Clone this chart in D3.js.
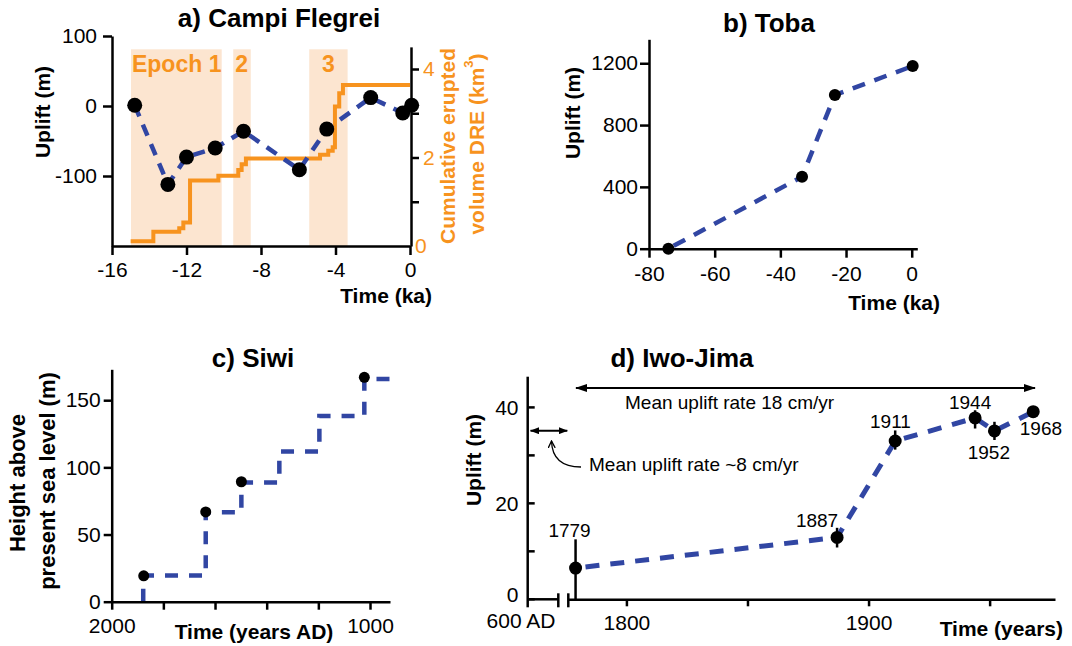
<!DOCTYPE html>
<html><head><meta charset="utf-8">
<script src="https://cdn.jsdelivr.net/npm/d3@7"></script>
<style>
body{margin:0;background:#fff;}
svg{display:block;}
</style></head><body>
<svg id="chart" width="1072" height="646"></svg>
<script>
// ================= DATA =================
// a) Campi Flegrei
const cfTime   = [-14.78, -13.0, -12.0, -10.46, -8.94, -5.94, -4.47, -2.11, -0.39, 0.09];
const cfUplift = [1, -112, -73, -60, -36, -91, -33, 12, -10, 1];
const cfVolTime = [-15, -13.78, -12.39, -12.17, -11.81, -10.29, -9.22, -9.04, -8.81, -4.83, -4.39, -4.15, -4.03, -3.8, -3.6, 0];
const cfVolume  = [0.11, 0.32, 0.40, 0.53, 1.48, 1.59, 1.72, 1.85, 1.98, 2.06, 2.15, 2.23, 3.15, 3.45, 3.64, 3.64];
const epochStart = [-14.98, -9.49, -5.41];
const epochEnd   = [-10.11, -8.55, -3.35];
const epochLabels = ["Epoch 1", "2", "3"];
const cfXTicks = [-16, -12, -8, -4, 0];
const cfYTicks = [100, 0, -100];
const cfVolTicks = [0, 1, 2, 3, 4];
const cfVolLabelTicks = [0, 2, 4];

// b) Toba
const tobaTime   = [-74.1, -33.4, -23.4, 0.3];
const tobaUplift = [0, 466, 995, 1182];
const tobaXTicks = [-80, -60, -40, -20, 0];
const tobaYTicks = [0, 400, 800, 1200];

// c) Siwi
const siwiStepYear   = [1878, 1878, 1636, 1498, 1351, 1196, 1022, 910];
const siwiStepHeight = [0, 19.5, 66.5, 88.7, 111.8, 138.2, 165.8, 165.8];
const siwiDotYear   = [1876, 1636, 1498, 1022];
const siwiDotHeight = [19.3, 66.8, 89.3, 167];
const siwiXTicks = [2000, 1800, 1600, 1400, 1200, 1000];
const siwiXLabels = [2000, 1000];
const siwiYTicks = [0, 50, 100, 150];

// d) Iwo-Jima
const iwoYear   = [1779, 1887, 1911, 1944, 1952, 1968];
const iwoUplift = [6.5, 12.9, 33.0, 37.8, 35.1, 39.1];
const iwoErrLo  = [0, 10.8, 31.2, 35.6, 33.2, 39.1];
const iwoErrHi  = [12.5, 14.9, 35.2, 39.4, 37.0, 39.1];
const iwoXTicks = [1800, 1850, 1900, 1950];
const iwoXLabels = [1800, 1900];
const iwoYTicks = [0, 10, 20, 30, 40];
const iwoYLabels = [0, 20, 40];

// ================= STYLE =================
const FONT = "'Liberation Sans', Arial, Helvetica, sans-serif";
const BLUE = "#3146a3", ORANGE = "#f7931e", SHADE = "#fce5d0";
const AXW = 2.5;

const svg = d3.select("#chart").attr("font-family", FONT);
svg.append("rect").attr("width", 1072).attr("height", 646).attr("fill", "#fff");

function txt(g, x, y, s, o = {}) {
  const t = g.append("text").attr("x", x).attr("y", y).text(s)
    .attr("font-size", o.size || 21).attr("font-weight", o.bold ? "bold" : "normal")
    .attr("fill", o.fill || "#000").attr("text-anchor", o.anchor || "start");
  if (o.rot) t.attr("transform", `rotate(${o.rot},${x},${y})`);
  if (o.central) t.attr("dominant-baseline", "central");
  return t;
}
function styleAxis(g, size, color) {
  g.attr("font-family", FONT).attr("font-size", size);
  g.select(".domain").attr("stroke", color || "#000").attr("stroke-width", AXW);
  g.selectAll(".tick line").attr("stroke", color || "#000").attr("stroke-width", AXW);
  g.selectAll(".tick text").attr("fill", color || "#000");
}
const fmt = d => String(d);

// ================= PANEL A =================
(function () {
  const g = svg.append("g");
  const x = d3.scaleLinear([-16, 0], [112, 410]);
  const yL = d3.scaleLinear([-200, 100], [246, 36]);
  const yR = d3.scaleLinear([0, 4.5], [246, 246 - 4.5 * 44.25]);

  // epoch shading
  g.selectAll("rect.ep").data(epochStart).join("rect")
    .attr("x", (d) => x(d)).attr("width", (d, i) => x(epochEnd[i]) - x(d))
    .attr("y", yL(81)).attr("height", yL(-200) - yL(81)).attr("fill", SHADE);
  const epX = [x(epochStart[0]) + 1, x(epochStart[1]) + 2, (x(epochStart[2]) + x(epochEnd[2])) / 2];
  epochLabels.forEach((s, i) => txt(g, epX[i], 72, s, { size: 23, bold: true, fill: ORANGE, anchor: i === 2 ? "middle" : "start" }));

  // cumulative volume step line
  const vol = cfVolTime.map((t, i) => [t, cfVolume[i]]);
  g.append("path").datum(vol)
    .attr("d", d3.line().x(d => x(d[0])).y(d => yR(d[1])).curve(d3.curveStepAfter))
    .attr("fill", "none").attr("stroke", ORANGE).attr("stroke-width", 4);

  // uplift
  const up = cfTime.map((t, i) => [t, cfUplift[i]]);
  g.append("path").datum(up)
    .attr("d", d3.line().x(d => x(d[0])).y(d => yL(d[1])))
    .attr("fill", "none").attr("stroke", BLUE).attr("stroke-width", 4.5).attr("stroke-dasharray", "12,9");
  g.selectAll("circle").data(up).join("circle")
    .attr("cx", d => x(d[0])).attr("cy", d => yL(d[1])).attr("r", 7.5).attr("fill", "#000");

  // axes
  const ax = g.append("g").attr("transform", "translate(0,246)")
    .call(d3.axisBottom(x).tickValues(cfXTicks).tickFormat(fmt).tickSize(9).tickSizeOuter(0).tickPadding(7));
  styleAxis(ax, 21);
  const ayl = g.append("g").attr("transform", "translate(112,0)")
    .call(d3.axisLeft(yL).tickValues(cfYTicks).tickFormat(fmt).tickSize(9).tickSizeOuter(0).tickPadding(6));
  styleAxis(ayl, 21);
  const ayr = g.append("g").attr("transform", "translate(411,0)")
    .call(d3.axisRight(yR).tickValues(cfVolTicks).tickFormat(d => cfVolLabelTicks.includes(d) ? fmt(d) : "")
      .tickSize(8).tickSizeOuter(0).tickPadding(4));
  styleAxis(ayr, 21, "#000");
  ayr.selectAll(".tick text").attr("fill", ORANGE);
  ayr.selectAll(".tick").filter(d => d === 0).select("line").remove();
  ayr.selectAll(".tick").filter(d => d === 0).select("text").attr("x", 4);

  txt(g, 279, 27, "a) Campi Flegrei", { size: 26, bold: true, anchor: "middle" });
  txt(g, 42, 112, "Uplift (m)", { bold: true, anchor: "middle", rot: -90, central: true });
  txt(g, 432, 303, "Time (ka)", { bold: true, anchor: "end" });
  txt(g, 447, 146, "Cumulative erupted", { bold: true, anchor: "middle", rot: -90, central: true, fill: ORANGE });
  const t2 = txt(g, 476, 144, "volume DRE (km", { bold: true, anchor: "middle", rot: -90, central: true, fill: ORANGE });
  t2.append("tspan").attr("font-size", 13).attr("dy", -8).text("3");
  t2.append("tspan").attr("dy", 8).text(")");
})();

// ================= PANEL B =================
(function () {
  const g = svg.append("g");
  const x = d3.scaleLinear([-80, 1.7], [649, 917.3]);
  const y = d3.scaleLinear([0, 1355], [248.7, 39.3]);
  const pts = tobaTime.map((t, i) => [t, tobaUplift[i]]);
  g.append("path").datum(pts)
    .attr("d", d3.line().x(d => x(d[0])).y(d => y(d[1])))
    .attr("fill", "none").attr("stroke", BLUE).attr("stroke-width", 4.5).attr("stroke-dasharray", "13,10")
    .attr("stroke-dashoffset", -6);
  g.selectAll("circle").data(pts).join("circle")
    .attr("cx", d => x(d[0])).attr("cy", d => y(d[1])).attr("r", 6).attr("fill", "#000");
  const ax = g.append("g").attr("transform", "translate(0,248.7)")
    .call(d3.axisBottom(x).tickValues(tobaXTicks).tickFormat(fmt).tickSize(9).tickSizeOuter(0).tickPadding(8));
  styleAxis(ax, 21);
  const ay = g.append("g").attr("transform", "translate(649,0)")
    .call(d3.axisLeft(y).tickValues(tobaYTicks).tickFormat(fmt).tickSize(9).tickSizeOuter(0).tickPadding(2));
  styleAxis(ay, 21);
  txt(g, 769, 32, "b) Toba", { size: 26, bold: true, anchor: "middle" });
  txt(g, 572, 113, "Uplift (m)", { bold: true, anchor: "middle", rot: -90, central: true });
  txt(g, 940, 310, "Time (ka)", { bold: true, anchor: "end" });
})();

// ================= PANEL C =================
(function () {
  const g = svg.append("g");
  const x = d3.scaleLinear([2000, 922.6], [111.7, 390]);
  const y = d3.scaleLinear([0, 173], [601.7, 369.3]);
  const step = siwiStepYear.map((t, i) => [t, siwiStepHeight[i]]);
  g.append("path").datum(step)
    .attr("d", d3.line().x(d => x(d[0])).y(d => y(d[1])).curve(d3.curveStepAfter))
    .attr("fill", "none").attr("stroke", BLUE).attr("stroke-width", 4.5).attr("stroke-dasharray", "13,11");
  const dots = siwiDotYear.map((t, i) => [t, siwiDotHeight[i]]);
  g.selectAll("circle").data(dots).join("circle")
    .attr("cx", d => x(d[0])).attr("cy", d => y(d[1])).attr("r", 5.5).attr("fill", "#000");
  const ax = g.append("g").attr("transform", "translate(0,601.7)")
    .call(d3.axisBottom(x).tickValues(siwiXTicks).tickFormat(d => siwiXLabels.includes(d) ? fmt(d) : "")
      .tickSize(8).tickSizeOuter(0).tickPadding(8));
  styleAxis(ax, 21);
  const ay = g.append("g").attr("transform", "translate(111.7,0)")
    .call(d3.axisLeft(y).tickValues(siwiYTicks).tickFormat(fmt).tickSize(8).tickSizeOuter(0).tickPadding(3));
  styleAxis(ay, 21);
  txt(g, 253, 367, "c) Siwi", { size: 26, bold: true, anchor: "middle" });
  txt(g, 17, 483, "Height above", { size: 22, bold: true, anchor: "middle", rot: -90, central: true });
  txt(g, 47, 481, "present sea level (m)", { size: 22, bold: true, anchor: "middle", rot: -90, central: true });
  txt(g, 254, 639, "Time (years AD)", { bold: true, anchor: "middle" });
})();

// ================= PANEL D =================
(function () {
  const g = svg.append("g");
  const x = d3.scaleLinear([1776, 1977], [568.3, 1055]);
  const y = d3.scaleLinear([0, 46.4], [599.3, 376.7]);
  const axX = 527.7, y0 = y(0);

  const defs = svg.append("defs");
  defs.append("marker").attr("id", "ahBig").attr("viewBox", "0 0 12 8").attr("refX", 11).attr("refY", 4)
    .attr("markerWidth", 12).attr("markerHeight", 8).attr("markerUnits", "userSpaceOnUse").attr("orient", "auto-start-reverse")
    .append("path").attr("d", "M0,0 L12,4 L0,8 Z").attr("fill", "#000");
  defs.append("marker").attr("id", "ahSmall").attr("viewBox", "0 0 9 7").attr("refX", 8.5).attr("refY", 3.5)
    .attr("markerWidth", 9).attr("markerHeight", 7).attr("markerUnits", "userSpaceOnUse").attr("orient", "auto-start-reverse")
    .append("path").attr("d", "M0,0 L9,3.5 L0,7 Z").attr("fill", "#000");
  defs.append("marker").attr("id", "ahOpen").attr("viewBox", "0 0 8 8").attr("refX", 7).attr("refY", 4)
    .attr("markerWidth", 8).attr("markerHeight", 8).attr("markerUnits", "userSpaceOnUse").attr("orient", "auto")
    .append("path").attr("d", "M0,0.5 L7,4 L0,7.5").attr("fill", "none").attr("stroke", "#000").attr("stroke-width", 1.3);

  // y axis (extends below x axis to make the 600 AD tick)
  g.append("line").attr("x1", axX).attr("x2", axX).attr("y1", 376.7).attr("y2", y0 + 8)
    .attr("stroke", "#000").attr("stroke-width", AXW);
  g.selectAll("line.yt").data(iwoYTicks).join("line")
    .attr("x1", axX).attr("x2", axX + 7).attr("y1", d => y(d)).attr("y2", d => y(d))
    .attr("stroke", "#000").attr("stroke-width", AXW);
  g.selectAll("text.yl").data(iwoYLabels).join("text")
    .attr("x", 518.5).attr("y", d => y(d) - (d === 0 ? 5 : 0)).attr("dy", "0.35em").attr("text-anchor", "end")
    .attr("font-size", 21).text(fmt);

  // broken x axis
  g.append("line").attr("x1", axX).attr("x2", 558.3).attr("y1", y0).attr("y2", y0).attr("stroke", "#000").attr("stroke-width", AXW);
  [558.3, 568.3].forEach(bx => g.append("line").attr("x1", bx).attr("x2", bx).attr("y1", y0 - 6).attr("y2", y0 + 8)
    .attr("stroke", "#000").attr("stroke-width", AXW));
  const ax = g.append("g").attr("transform", `translate(0,${y0})`)
    .call(d3.axisBottom(x).tickValues(iwoXTicks).tickFormat(d => iwoXLabels.includes(d) ? fmt(d) : "")
      .tickSize(7).tickSizeOuter(0).tickPadding(9));
  styleAxis(ax, 21);
  txt(g, 521, 628, "600 AD", { anchor: "middle" });

  // error bars, line, dots
  g.selectAll("line.err").data(iwoYear).join("line")
    .attr("x1", d => x(d)).attr("x2", d => x(d))
    .attr("y1", (d, i) => y(iwoErrLo[i])).attr("y2", (d, i) => y(iwoErrHi[i]))
    .attr("stroke", "#000").attr("stroke-width", 2.5);
  const pts = iwoYear.map((t, i) => [t, iwoUplift[i]]);
  g.append("path").datum(pts)
    .attr("d", d3.line().x(d => x(d[0])).y(d => y(d[1])))
    .attr("fill", "none").attr("stroke", BLUE).attr("stroke-width", 5).attr("stroke-dasharray", "14,11")
    .attr("stroke-dashoffset", -10);
  g.selectAll("circle").data(pts).join("circle")
    .attr("cx", d => x(d[0])).attr("cy", d => y(d[1])).attr("r", 6.5).attr("fill", "#000");

  // year labels
  const lblOff = [[-6, -31.6], [-20, -10.7], [-4.7, -13.4], [-5, -9.4], [-5.6, 27.6], [7.7, 23.3]];
  pts.forEach((p, i) => txt(g, x(p[0]) + lblOff[i][0], y(p[1]) + lblOff[i][1], String(p[0]), { size: 19, anchor: "middle" }));

  // arrows and annotations
  g.append("line").attr("x1", 576).attr("x2", 1035).attr("y1", 388).attr("y2", 388)
    .attr("stroke", "#000").attr("stroke-width", 2)
    .attr("marker-start", "url(#ahBig)").attr("marker-end", "url(#ahBig)");
  txt(g, 625, 409, "Mean uplift rate 18 cm/yr", { size: 19 });
  g.append("line").attr("x1", 530.5).attr("x2", 567.3).attr("y1", 430.7).attr("y2", 430.7)
    .attr("stroke", "#000").attr("stroke-width", 2)
    .attr("marker-start", "url(#ahSmall)").attr("marker-end", "url(#ahSmall)");
  g.append("path").attr("d", "M581,467 C562,467 552,458 551.5,441")
    .attr("fill", "none").attr("stroke", "#000").attr("stroke-width", 1.3).attr("marker-end", "url(#ahOpen)");
  txt(g, 589, 471, "Mean uplift rate ~8 cm/yr", { size: 19 });

  txt(g, 682, 367, "d) Iwo-Jima", { size: 26, bold: true, anchor: "middle" });
  txt(g, 473, 460, "Uplift (m)", { bold: true, anchor: "middle", rot: -90, central: true });
  txt(g, 1063, 636, "Time (years)", { bold: true, anchor: "end" });
})();
</script>
</body></html>
